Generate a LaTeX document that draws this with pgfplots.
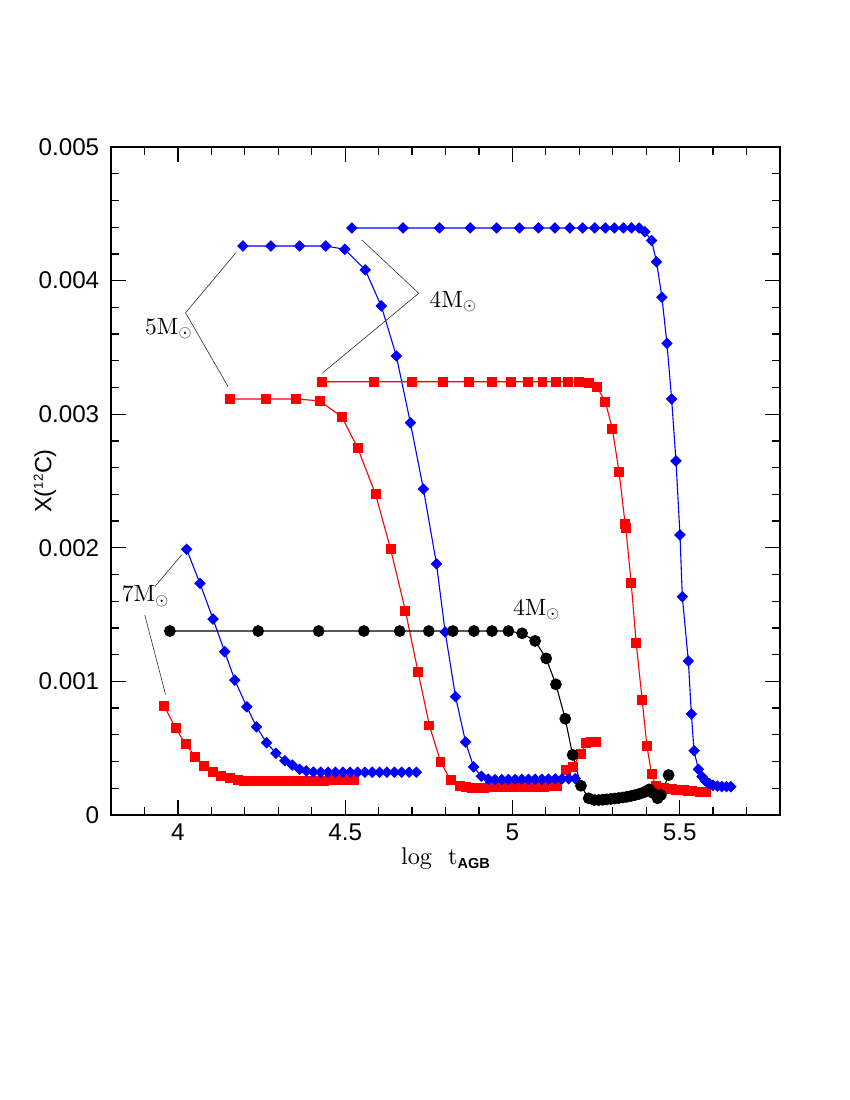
\documentclass[border=0pt]{standalone}
\usepackage{fontspec}
\usepackage{pgfplots}
\pgfplotsset{compat=1.18}
\newfontfamily\helv{Liberation Sans}
\newfontfamily\lmten{lmroman10-regular.otf}
\definecolor{pblue}{RGB}{0,0,255}
\definecolor{pred}{RGB}{255,0,0}
\tikzset{
  note/.style={font=\lmten\fontsize{17}{20}\selectfont, anchor=base west, inner sep=0pt},
  lead/.style={line width=0.45pt, black!80},
}
\begin{document}
\begin{tikzpicture}
\useasboundingbox (-1.11in,-2.85in) rectangle (7.39in,8.15in);
\begin{axis}[
  scale only axis, width=6.69in, height=6.68in,
  xmin=3.8, xmax=5.8, ymin=0, ymax=0.005,
  xtick={4,4.5,5,5.5}, xticklabels={4,4.5,5,5.5},
  minor xtick={3.9,4.1,4.2,4.3,4.4,4.6,4.7,4.8,4.9,5.1,5.2,5.3,5.4,5.6,5.7},
  ytick={0,0.001,0.002,0.003,0.004,0.005},
  yticklabels={0,0.001,0.002,0.003,0.004,0.005},
  minor ytick={0.0002,0.0004,0.0006,0.0008,0.0012,0.0014,0.0016,0.0018,
               0.0022,0.0024,0.0026,0.0028,0.0032,0.0034,0.0036,0.0038,
               0.0042,0.0044,0.0046,0.0048},
  scaled y ticks=false,
  tick align=inside,
  major tick length=0.15in, minor tick length=0.077in,
  every tick/.style={black, line width=0.9pt},
  axis line style={line width=1.3pt},
  ticklabel style={font=\helv\fontsize{17.5}{20}\selectfont},
  yticklabel style={xshift=-5pt},
  xticklabel style={yshift=-2.5pt},
  xlabel={log\ \ t\raisebox{-3.5pt}{\helv\bfseries\fontsize{10.5}{11}\selectfont AGB}},
  xlabel style={font=\lmten\fontsize{17.5}{20}\selectfont, at={(axis description cs:0.5,-0.0734)}, anchor=base},
  ylabel={X(\textsuperscript{\fontsize{9.5}{10}\selectfont 12}C)},
  ylabel style={font=\helv\fontsize{17}{20}\selectfont, at={(axis description cs:-0.0987,0.5)}, anchor=center},
  clip=false,
]
% 7 Msun
\addplot[pred, line width=0.8pt, mark=square*, mark size=3.2pt] coordinates {
(3.959,0.000818)(3.993,0.000649)(4.024,0.000529)(4.052,0.000436)(4.079,0.000367)
(4.105,0.000324)(4.130,0.000294)(4.155,0.000274)(4.180,0.000262)(4.198,0.000257)
(4.214,0.000255)(4.230,0.000253)(4.246,0.000252)(4.262,0.000252)(4.278,0.000252)
(4.294,0.000252)(4.310,0.000253)(4.326,0.000253)(4.342,0.000254)(4.358,0.000255)
(4.374,0.000255)(4.390,0.000256)(4.406,0.000257)(4.422,0.000257)(4.438,0.000258)
(4.454,0.000259)(4.470,0.000259)(4.486,0.000260)(4.502,0.000260)(4.518,0.000261)
(4.528,0.000261)};
\addplot[pblue, line width=0.8pt, mark=square*, mark size=2.55pt, mark options={rotate=45}] coordinates {
(4.026,0.001989)(4.066,0.001734)(4.105,0.001467)(4.140,0.001222)(4.170,0.001010)
(4.206,0.000810)(4.235,0.000660)(4.265,0.000541)(4.293,0.000462)(4.320,0.000406)
(4.342,0.000374)(4.364,0.000342)(4.384,0.000330)(4.405,0.000322)(4.427,0.000320)
(4.449,0.000320)(4.471,0.000320)(4.493,0.000320)(4.515,0.000320)(4.537,0.000320)
(4.559,0.000320)(4.581,0.000320)(4.603,0.000320)(4.625,0.000320)(4.647,0.000320)
(4.669,0.000320)(4.691,0.000320)(4.713,0.000320)};
% 5 Msun
\addplot[pred, line width=0.8pt, mark=square*, mark size=3.2pt] coordinates {
(4.155,0.003114)(4.263,0.003114)(4.352,0.003114)(4.424,0.003100)(4.490,0.002980)
(4.537,0.002750)(4.591,0.002400)(4.636,0.001990)(4.680,0.001530)(4.718,0.001070)
(4.752,0.000670)(4.785,0.000400)(4.815,0.000262)(4.842,0.000217)(4.862,0.000208)
(4.880,0.000205)(4.898,0.000205)(4.916,0.000205)(4.934,0.000206)(4.952,0.000206)
(4.970,0.000207)(4.988,0.000207)(5.006,0.000208)(5.024,0.000209)(5.042,0.000210)
(5.060,0.000211)(5.078,0.000212)(5.096,0.000213)(5.114,0.000214)(5.134,0.000215)
(5.160,0.000337)(5.180,0.000362)(5.205,0.000457)(5.220,0.000540)(5.235,0.000545)
(5.250,0.000545)};
\addplot[pblue, line width=0.8pt, mark=square*, mark size=2.55pt, mark options={rotate=45}] coordinates {
(4.194,0.004259)(4.278,0.004259)(4.364,0.004259)(4.442,0.004259)(4.499,0.004234)
(4.560,0.004080)(4.608,0.003810)(4.653,0.003436)(4.695,0.002936)(4.734,0.002440)
(4.773,0.001880)(4.799,0.001370)(4.830,0.000886)(4.860,0.000546)(4.884,0.000360)
(4.907,0.000290)(4.928,0.000268)(4.948,0.000265)(4.968,0.000265)(4.988,0.000266)
(5.008,0.000266)(5.028,0.000267)(5.048,0.000267)(5.068,0.000268)(5.088,0.000268)
(5.108,0.000269)(5.128,0.000270)(5.148,0.000270)(5.168,0.000271)(5.188,0.000272)};
% 4 Msun
\addplot[pred, line width=0.8pt, mark=square*, mark size=3.2pt] coordinates {
(4.431,0.003243)(4.585,0.003243)(4.699,0.003243)(4.792,0.003243)(4.869,0.003243)
(4.940,0.003243)(4.997,0.003243)(5.048,0.003243)(5.090,0.003243)(5.131,0.003243)
(5.165,0.003243)(5.198,0.003243)(5.228,0.003230)(5.253,0.003200)(5.278,0.003094)
(5.299,0.002886)(5.319,0.002565)(5.337,0.002180)(5.339,0.002150)(5.355,0.001740)
(5.370,0.001290)(5.388,0.000860)(5.402,0.000519)(5.416,0.000307)(5.429,0.000217)
(5.441,0.000205)(5.453,0.000200)(5.465,0.000196)(5.477,0.000193)(5.489,0.000190)
(5.501,0.000187)(5.513,0.000184)(5.525,0.000181)(5.537,0.000178)(5.549,0.000176)
(5.561,0.000173)(5.578,0.000170)};
\addplot[pblue, line width=0.8pt, mark=square*, mark size=2.55pt, mark options={rotate=45}] coordinates {
(4.520,0.004394)(4.673,0.004394)(4.782,0.004394)(4.874,0.004394)(4.953,0.004394)
(5.021,0.004394)(5.078,0.004394)(5.127,0.004394)(5.172,0.004394)(5.210,0.004394)
(5.246,0.004394)(5.278,0.004394)(5.305,0.004394)(5.332,0.004394)(5.356,0.004394)
(5.379,0.004394)(5.396,0.004366)(5.416,0.004300)(5.431,0.004140)(5.447,0.003875)
(5.462,0.003530)(5.476,0.003114)(5.489,0.002650)(5.501,0.002096)(5.508,0.001634)
(5.526,0.001153)(5.535,0.000756)(5.543,0.000481)(5.556,0.000342)(5.567,0.000287)
(5.577,0.000255)(5.588,0.000235)(5.600,0.000222)(5.613,0.000216)(5.626,0.000213)
(5.640,0.000212)(5.653,0.000212)};
\addplot[black, line width=0.8pt, mark=*, mark size=3.85pt] coordinates {
(3.976,0.001377)(4.240,0.001377)(4.421,0.001377)(4.556,0.001377)(4.663,0.001377)
(4.750,0.001377)(4.822,0.001377)(4.885,0.001377)(4.939,0.001377)(4.988,0.001377)
(5.029,0.001360)(5.068,0.001303)(5.101,0.001172)(5.130,0.000978)(5.158,0.000720)
(5.180,0.000450)(5.205,0.000219)(5.228,0.000125)(5.245,0.000112)(5.258,0.000112)
(5.270,0.000114)(5.282,0.000117)(5.294,0.000120)(5.306,0.000123)(5.318,0.000127)
(5.330,0.000131)(5.342,0.000136)(5.354,0.000142)(5.366,0.000149)(5.378,0.000157)
(5.390,0.000167)(5.400,0.000178)(5.409,0.000192)(5.420,0.000165)(5.434,0.000125)
(5.444,0.000150)(5.467,0.000299)};
% labels
\draw[lead] (axis cs:4.172,0.004204) -- (axis cs:4.023,0.003759) -- (axis cs:4.150,0.003206);
\draw[lead] (axis cs:4.550,0.004304) -- (axis cs:4.720,0.003905) -- (axis cs:4.431,0.003306);
\draw[lead] (axis cs:3.931,0.001709) -- (axis cs:4.011,0.001946);
\draw[lead] (axis cs:3.901,0.001497) -- (axis cs:3.963,0.000903);
\node[note] at (axis cs:3.9015,0.0036) {5M$_\odot$};
\node[note] at (axis cs:4.752,0.0038) {4M$_\odot$};
\node[note] at (axis cs:3.832,0.001597) {7M$_\odot$};
\node[note] at (axis cs:5.001,0.001497) {4M$_\odot$};
\end{axis}
\end{tikzpicture}
\end{document}
